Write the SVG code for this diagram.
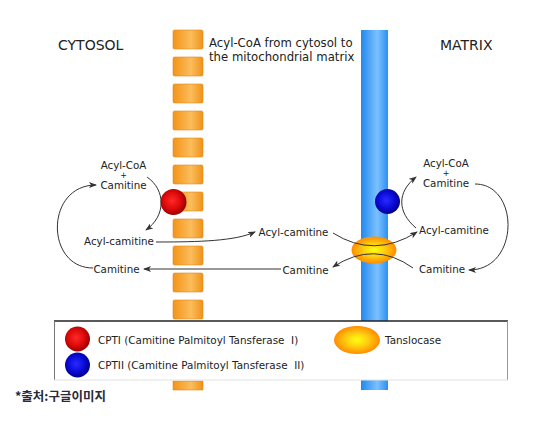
<svg xmlns="http://www.w3.org/2000/svg" width="559" height="425" viewBox="0 0 559 425">
<style>
text{font-family:"DejaVu Sans","Liberation Sans",sans-serif;fill:#222}
.lbl{font-size:10.3px;text-anchor:middle}
.title{font-size:14px}
.leg{font-size:10.4px;white-space:pre}
.blk{fill:url(#og);stroke:#e08a20;stroke-width:0.6}
.con{fill:none;stroke:#333;stroke-width:1}
.arr{marker-end:url(#ah)}
</style>
<defs>
<linearGradient id="og" x1="0" y1="0" x2="1" y2="0">
<stop offset="0" stop-color="#f39418"/>
<stop offset="0.6" stop-color="#fbbd5c"/>
<stop offset="1" stop-color="#ef9218"/>
</linearGradient>
<linearGradient id="bg" x1="0" y1="0" x2="1" y2="0">
<stop offset="0" stop-color="#2189ee"/>
<stop offset="0.6" stop-color="#7cc0ff"/>
<stop offset="1" stop-color="#2b90f2"/>
</linearGradient>
<radialGradient id="rg" cx="0.45" cy="0.45" r="0.55">
<stop offset="0" stop-color="#ff2a2a"/>
<stop offset="0.6" stop-color="#dd0a0a"/>
<stop offset="1" stop-color="#9a0000"/>
</radialGradient>
<radialGradient id="blg" cx="0.45" cy="0.45" r="0.55">
<stop offset="0" stop-color="#2a2aff"/>
<stop offset="0.6" stop-color="#0a0ad8"/>
<stop offset="1" stop-color="#000088"/>
</radialGradient>
<radialGradient id="tg" cx="0.5" cy="0.5" r="0.5">
<stop offset="0" stop-color="#ffff10"/>
<stop offset="0.5" stop-color="#ffcc10"/>
<stop offset="1" stop-color="#ff8c00"/>
</radialGradient>
<marker id="ah" viewBox="0 0 8 6" refX="7" refY="3" markerWidth="8" markerHeight="6" markerUnits="userSpaceOnUse" orient="auto">
<path d="M0,0 L8,3 L0,6 L2,3 z" fill="#333"/>
</marker>
</defs>

<g id="outer-membrane">
<rect class="blk" x="173" y="30" width="30" height="19" rx="1.5"/>
<rect class="blk" x="173" y="57" width="30" height="19" rx="1.5"/>
<rect class="blk" x="173" y="84" width="30" height="19" rx="1.5"/>
<rect class="blk" x="173" y="111" width="30" height="19" rx="1.5"/>
<rect class="blk" x="173" y="138" width="30" height="19" rx="1.5"/>
<rect class="blk" x="173" y="165" width="30" height="19" rx="1.5"/>
<rect class="blk" x="173" y="192" width="30" height="19" rx="1.5"/>
<rect class="blk" x="173" y="219" width="30" height="19" rx="1.5"/>
<rect class="blk" x="173" y="246" width="30" height="19" rx="1.5"/>
<rect class="blk" x="173" y="273" width="30" height="19" rx="1.5"/>
<rect class="blk" x="173" y="300" width="30" height="19" rx="1.5"/>
<rect class="blk" x="173" y="381" width="30" height="9"/>
</g>

<g id="inner-membrane">
<rect x="361" y="30" width="27" height="360" fill="url(#bg)"/>
</g>

<g id="titles">
<text class="title" x="58" y="50">CYTOSOL</text>
<text class="title" x="440" y="50">MATRIX</text>
<text x="209" y="47" style="font-size:11.7px">Acyl-CoA from cytosol to</text>
<text x="209" y="61" style="font-size:11.7px">the mitochondrial matrix</text>
</g>

<g id="cpt1">
<circle cx="173.5" cy="202" r="13" fill="url(#rg)"/>
</g>
<g id="cpt2">
<circle cx="387.5" cy="201.5" r="12.5" fill="url(#blg)"/>
</g>
<g id="translocase">
<ellipse cx="374" cy="250" rx="22.5" ry="13.5" fill="url(#tg)"/>
</g>

<g id="left-labels">
<text class="lbl" x="123.5" y="169">Acyl-CoA</text>
<text class="lbl" x="123.5" y="178" style="font-size:8px">+</text>
<text class="lbl" x="123.5" y="189">Camitine</text>
<text class="lbl" x="119" y="245">Acyl-camitine</text>
<text class="lbl" x="116.5" y="273">Camitine</text>
</g>
<g id="middle-labels">
<text class="lbl" x="293.5" y="236">Acyl-camitine</text>
<text class="lbl" x="305.5" y="274">Camitine</text>
</g>
<g id="right-labels">
<text class="lbl" x="446" y="167">Acyl-CoA</text>
<text class="lbl" x="446" y="176" style="font-size:8px">+</text>
<text class="lbl" x="446" y="187">Camitine</text>
<text class="lbl" x="454" y="234">Acyl-camitine</text>
<text class="lbl" x="442" y="273">Camitine</text>
</g>

<g id="connectors">
<path class="con arr" d="M147,177 C166,190 166,216 146,230"/>
<path class="con arr" d="M93,268 C45,268 45,185 96,185"/>
<path class="con arr" d="M156,242 C200,242 235,241 255,232"/>
<path class="con arr" d="M281,269 L144,269"/>
<path class="con arr" d="M333,233 Q374,259 417,232"/>
<path class="con arr" d="M413,268 Q374,240 333,267"/>
<path class="con arr" d="M416,228 C397,212 397,192 416,177"/>
<path class="con arr" d="M475,184 C520,184 520,270 469,270"/>
</g>

<g id="legend">
<rect x="54" y="321" width="454" height="59" fill="#fff"/>
<line x1="54" y1="321" x2="508" y2="321" stroke="#222" stroke-width="1.5"/>
<line x1="54.5" y1="321" x2="54.5" y2="380" stroke="#777" stroke-width="1"/>
<line x1="507.5" y1="321" x2="507.5" y2="380" stroke="#999" stroke-width="1"/>
<line x1="54" y1="380" x2="508" y2="380" stroke="#e2e2e2" stroke-width="1"/>
<circle cx="77.5" cy="339" r="12.5" fill="url(#rg)"/>
<circle cx="77.5" cy="365" r="12.5" fill="url(#blg)"/>
<ellipse cx="357" cy="340" rx="23" ry="14" fill="url(#tg)"/>
<text class="leg" x="98" y="344">CPTI (Camitine Palmitoyl Tansferase  I)</text>
<text class="leg" x="98" y="369">CPTII (Camitine Palmitoyl Tansferase  II)</text>
<text class="leg" x="385" y="344">Tanslocase</text>
</g>

<g id="source">
<text x="15" y="401" style="font-family:'Noto Sans CJK KR','DejaVu Sans',sans-serif;font-size:12.5px;font-weight:bold;fill:#2a2a3a">*출처:구글이미지</text>
</g>
</svg>
